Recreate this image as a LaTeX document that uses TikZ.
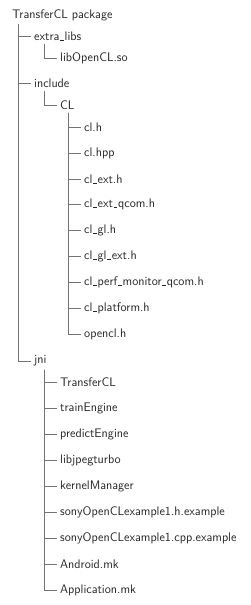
\documentclass[tikz,border=0pt]{standalone}
\newcommand\us{\leavevmode\kern.06em\vbox{\hrule width.3em}\kern.06em}
\begin{document}
\begin{tikzpicture}[
    x=1pt, y=-1pt,
    entry/.style={anchor=west, inner sep=3pt, font=\sffamily\fontsize{12.4}{14}\selectfont, text=black!85},
    branch/.style={draw=black!55, line width=0.6pt}
]
\useasboundingbox (0,0) rectangle (250,605);
% root and first level
\node[entry] (root) at (9,15) {TransferCL package};
\node[entry] (extra) at (31,36) {extra\us libs};
\node[entry] (libocl) at (57,58) {libOpenCL.so};
\node[entry] (incl) at (31,83) {include};
\node[entry] (CL) at (57,105) {CL};
% headers in CL
\node[entry] (clh) at (81,127) {cl.h};
\node[entry] (clhpp) at (81,153) {cl.hpp};
\node[entry] (clext) at (81,179) {cl\us ext.h};
\node[entry] (clextq) at (81,204) {cl\us ext\us qcom.h};
\node[entry] (clgl) at (81,230) {cl\us gl.h};
\node[entry] (clglext) at (81,256) {cl\us gl\us ext.h};
\node[entry] (clperf) at (81,282) {cl\us perf\us monitor\us qcom.h};
\node[entry] (clplat) at (81,308) {cl\us platform.h};
\node[entry] (opencl) at (81,334) {opencl.h};
% jni
\node[entry] (jni) at (31,361) {jni};
\node[entry] (tcl) at (57,382) {TransferCL};
\node[entry] (train) at (57,408) {trainEngine};
\node[entry] (predict) at (57,434) {predictEngine};
\node[entry] (jpeg) at (57,460) {libjpegturbo};
\node[entry] (kernel) at (57,486) {kernelManager};
\node[entry] (sonyh) at (57,512) {sonyOpenCLexample1.h.example};
\node[entry] (sonycpp) at (57,538) {sonyOpenCLexample1.cpp.example};
\node[entry] (android) at (57,564) {Android.mk};
\node[entry] (app) at (57,590) {Application.mk};
% connectors
\foreach \c in {extra, incl, jni}
    \draw[branch] ([xshift=9pt]root.south west) |- (\c.west);
\draw[branch] ([xshift=13pt]extra.south west) |- (libocl.west);
\draw[branch] ([xshift=13pt]incl.south west) |- (CL.west);
\foreach \c in {clh, clhpp, clext, clextq, clgl, clglext, clperf, clplat, opencl}
    \draw[branch] ([xshift=11pt]CL.south west) |- (\c.west);
\foreach \c in {tcl, train, predict, jpeg, kernel, sonyh, sonycpp, android, app}
    \draw[branch] ([xshift=13pt]jni.south west) |- (\c.west);
\end{tikzpicture}
\end{document}
